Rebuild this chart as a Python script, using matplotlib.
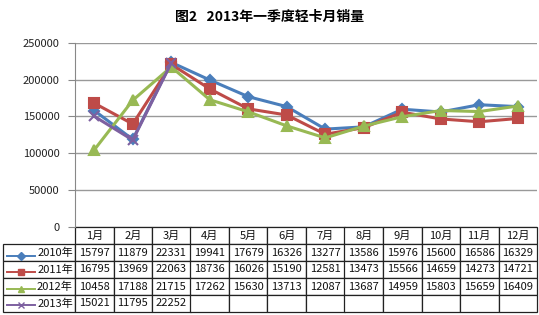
import matplotlib
matplotlib.use("Agg")
import matplotlib.pyplot as plt
from matplotlib.lines import Line2D

plt.rcParams['font.family'] = ['Noto Sans CJK SC', 'DejaVu Sans']

# data (table shows the first five digits, chart plots full values)
months = ['1月', '2月', '3月', '4月', '5月', '6月', '7月', '8月', '9月', '10月', '11月', '12月']
years = ['2010年', '2011年', '2012年', '2013年']
s2010 = [15797, 11879, 22331, 19941, 17679, 16326, 13277, 13586, 15976, 15600, 16586, 16329]
s2011 = [16795, 13969, 22063, 18736, 16026, 15190, 12581, 13473, 15566, 14659, 14273, 14721]
s2012 = [10458, 17188, 21715, 17262, 15630, 13713, 12087, 13687, 14959, 15803, 15659, 16409]
s2013 = [15021, 11795, 22252]
yticks = [0, 50000, 100000, 150000, 200000, 250000]

series = [s2010, s2011, s2012, s2013]
colors = ['#4A7EBB', '#BE4B48', '#98B954', '#7D60A0']
markers = ['D', 's', '^', 'x']
msizes = [5, 7, 7, 7]

W, H = 539, 315
fig = plt.figure(figsize=(W / 100, H / 100), dpi=100)
ax = fig.add_axes([75 / W, 1 - 227 / H, (537 - 75) / W, (227 - 42.7) / H])

fig.text(270 / W, 1 - 17 / H, '图2   2013年一季度轻卡月销量', ha='center', va='center',
         fontsize=10, fontweight='bold')

for vals, c, m, ms in zip(series, colors, markers, msizes):
    x = list(range(len(vals)))
    ax.plot(x, [v * 10 for v in vals], color=c, lw=2.2, marker=m, ms=ms,
            mew=1.5, zorder=3)

ax.set_xlim(-0.5, 11.5)
ax.set_ylim(0, 250000)
ax.set_yticks(yticks)
ax.set_yticklabels([str(t) for t in yticks], fontsize=8, color='#222222')
ax.tick_params(axis='y', length=5, color='#888888', pad=6)
ax.set_xticks([])
ax.grid(axis='y', color='#999999', lw=1)
ax.set_axisbelow(True)
for side in ['top', 'right', 'bottom']:
    ax.spines[side].set_visible(False)
ax.spines['left'].set_color('#888888')

# data table
rows = []
for y, vals in zip(years, series):
    rows.append([y] + [str(v) for v in vals] + [''] * (12 - len(vals)))
tb = ax.table(cellText=rows, colLabels=[''] + months,
              colWidths=[72] + [38.5] * 12,
              bbox=[(3 - 75) / 462, -85 / 184.3, 534 / 462, 85 / 184.3])
tb.auto_set_font_size(False)
for (r, c), cell in tb.get_celld().items():
    cell.set_edgecolor('#222222')
    cell.set_linewidth(0.9)
    cell.get_text().set_fontsize(8)
    cell.get_text().set_color('#111111')
    if r == 0 and c == 0:
        cell.visible_edges = ''
    if c == 0 and r > 0:
        cell.get_text().set_ha('right')
        cell._loc = 'right'
        cell.PAD = 0.03

# legend keys in the row label cells
row_y = [255.5, 272, 288.5, 304.5]
for yy, c, m in zip(row_y, colors, markers):
    fy = 1 - yy / H
    fig.add_artist(Line2D([7 / W, 35 / W], [fy, fy], color=c, lw=1.4,
                          marker=None, transform=fig.transFigure))
    fig.add_artist(Line2D([21 / W], [fy], color=c, marker=m, ms=4 if m == 'D' else 5,
                          mew=1.0, transform=fig.transFigure))

fig.savefig('out.png', dpi=100)
